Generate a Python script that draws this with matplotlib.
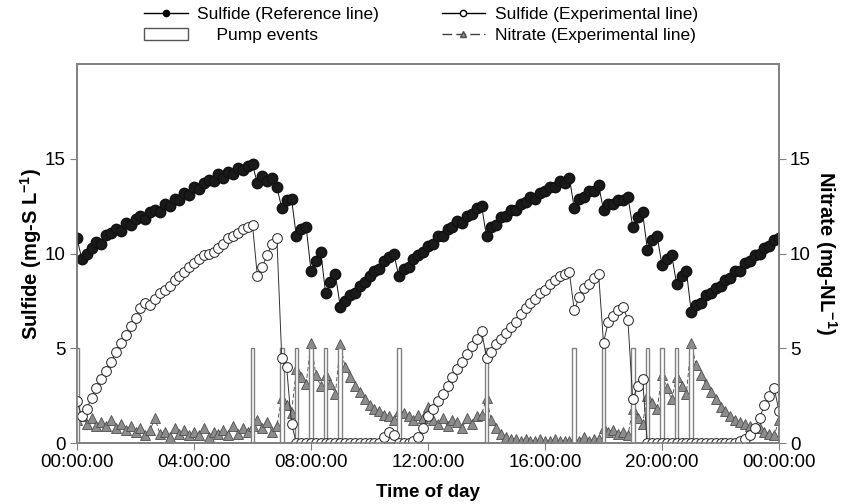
import numpy as np
import matplotlib.pyplot as plt
from matplotlib.lines import Line2D
from matplotlib.patches import Rectangle

plt.rcParams['font.family'] = ['Liberation Sans', 'DejaVu Sans']
plt.rcParams['mathtext.fontset'] = 'custom'
plt.rcParams['mathtext.rm'] = 'Liberation Sans'
plt.rcParams['mathtext.bf'] = 'Liberation Sans:bold'

# samples every 10 min from 00:00 to 24:00, one row per hour
minutes = np.arange(0, 24 * 60 + 1, 10)
hours = minutes / 60.0

sulfide_ref = [
    10.8, 9.7, 10.0, 10.3, 10.6, 10.5,   # 00h
    11.0, 11.1, 11.3, 11.2, 11.6, 11.5,  # 01h
    11.8, 12.0, 11.8, 12.2, 12.3, 12.2,  # 02h
    12.6, 12.5, 12.9, 12.8, 13.2, 13.1,  # 03h
    13.5, 13.4, 13.7, 13.9, 13.8, 14.2,  # 04h
    14.0, 14.3, 14.2, 14.5, 14.4, 14.6,  # 05h
    14.7, 13.7, 14.1, 13.8, 14.0, 13.5,  # 06h
    12.4, 12.8, 12.9, 10.9, 11.3, 11.4,  # 07h
    9.1, 9.6, 10.1, 7.9, 8.5, 8.9,       # 08h
    7.2, 7.5, 7.8, 7.9, 8.3, 8.5,        # 09h
    8.8, 9.1, 9.2, 9.6, 9.8, 10.0,       # 10h
    8.8, 9.2, 9.3, 9.7, 9.9, 10.1,       # 11h
    10.4, 10.5, 10.9, 10.9, 11.3, 11.4,  # 12h
    11.7, 11.6, 12.0, 12.1, 12.4, 12.5,  # 13h
    10.9, 11.4, 11.5, 11.9, 12.0, 12.3,  # 14h
    12.3, 12.6, 12.7, 13.0, 12.9, 13.2,  # 15h
    13.3, 13.5, 13.5, 13.8, 13.7, 14.0,  # 16h
    12.4, 12.9, 13.0, 13.3, 13.3, 13.6,  # 17h
    12.3, 12.6, 12.6, 12.8, 12.8, 13.0,  # 18h
    11.4, 11.9, 12.2, 10.2, 10.7, 10.9,  # 19h
    9.4, 9.7, 9.9, 8.4, 8.8, 9.1,        # 20h
    6.9, 7.3, 7.4, 7.8, 7.9, 8.2,        # 21h
    8.3, 8.6, 8.7, 9.1, 9.1, 9.5,        # 22h
    9.6, 9.9, 10.0, 10.3, 10.4, 10.7,    # 23h
    10.8]

sulfide_exp = [
    2.2, 1.4, 1.8, 2.4, 2.9, 3.4,
    3.8, 4.3, 4.8, 5.3, 5.7, 6.2,
    6.6, 7.1, 7.4, 7.3, 7.6, 7.9,
    8.1, 8.3, 8.6, 8.8, 9.0, 9.3,
    9.5, 9.7, 9.9, 10.0, 10.1, 10.3,
    10.5, 10.8, 10.9, 11.1, 11.3, 11.4,
    11.5, 8.8, 9.3, 9.9, 10.5, 10.8,
    4.5, 4.0, 1.0, 0.0, 0.0, 0.0,
    0.0, 0.0, 0.0, 0.0, 0.0, 0.0,
    0.0, 0.0, 0.0, 0.0, 0.0, 0.0,
    0.0, 0.0, 0.0, 0.3, 0.6, 0.4,
    0.0, 0.0, 0.0, 0.1, 0.3, 0.8,
    1.4, 1.8, 2.2, 2.6, 3.0, 3.5,
    3.9, 4.3, 4.7, 5.1, 5.5, 5.9,
    4.5, 4.8, 5.2, 5.5, 5.8, 6.1,
    6.4, 6.8, 7.1, 7.4, 7.6, 7.9,
    8.1, 8.4, 8.6, 8.8, 8.9, 9.0,
    7.0, 7.7, 8.2, 8.4, 8.7, 8.9,
    5.3, 6.4, 6.7, 7.0, 7.2, 6.5,
    2.3, 3.0, 3.4, 0.0, 0.0, 0.0,
    0.0, 0.0, 0.0, 0.0, 0.0, 0.0,
    0.0, 0.0, 0.0, 0.0, 0.0, 0.0,
    0.0, 0.0, 0.0, 0.0, 0.1, 0.2,
    0.4, 0.8, 1.3, 2.0, 2.5, 2.9,
    1.7]

nitrate_exp = [
    1.2, 1.4, 1.0, 1.3, 0.9, 1.1,
    0.9, 1.2, 0.8, 1.0, 0.7, 0.9,
    0.6, 0.8, 0.4, 0.7, 1.3, 0.5,
    0.6, 0.3, 0.8, 0.5, 0.7, 0.4,
    0.6, 0.4, 0.8, 0.3, 0.6, 0.5,
    0.7, 0.4, 0.9, 0.5, 0.8, 0.6,
    0.9, 1.2, 0.8, 1.1, 0.6, 0.9,
    2.4, 2.0, 1.6, 3.9, 3.5, 3.1,
    5.3, 3.6, 3.0, 3.6, 3.1, 2.6,
    5.2, 4.0, 3.5, 3.0, 2.7, 2.3,
    2.0, 1.8, 1.7, 1.5, 1.4, 1.2,
    1.7, 1.6, 1.4, 1.2, 1.5, 1.3,
    1.9, 1.2, 1.0, 1.3, 0.9, 1.2,
    1.1, 0.8, 1.3, 1.0, 1.4, 1.5,
    2.4, 1.2, 0.8, 0.5, 0.3, 0.2,
    0.2, 0.1, 0.2, 0.1, 0.1, 0.2,
    0.1, 0.1, 0.2, 0.1, 0.1, 0.1,
    0.2, 0.1, 0.3, 0.1, 0.2, 0.2,
    0.8, 0.6, 0.7, 0.5, 0.6, 0.4,
    1.8, 1.3, 1.0, 2.5, 2.1, 1.8,
    3.6, 2.9, 2.3, 3.5, 3.0, 2.6,
    5.3, 4.1, 3.6, 3.1, 2.7, 2.3,
    1.9, 1.7, 1.4, 1.2, 1.1, 1.0,
    0.9, 0.8, 0.8, 0.6, 0.5, 0.4,
    1.2]

pump_hours = [0, 6, 7, 7.5, 8, 8.5, 9, 11, 14, 17, 18, 19, 19.5, 20, 20.5, 21]
pump_level = [5] * len(pump_hours)

xtick_hours = [0, 4, 8, 12, 16, 20, 24]
xtick_labels = ['00:00:00', '04:00:00', '08:00:00', '12:00:00',
                '16:00:00', '20:00:00', '00:00:00']

spine_col = '#808080'

fig = plt.figure(figsize=(8.45, 5.04), dpi=100)
ax = fig.add_axes([77/845, 1-443/504, 702/845, 379/504])

# PLOTTING THE SERIES
ax.plot(hours, nitrate_exp, color='#404040', lw=0.6, ls=(0, (5, 3)),
        marker='^', ms=7, mfc='#8c8c8c', mec='#4d4d4d', mew=0.6, zorder=2)
ax.bar(pump_hours, pump_level, width=0.12, color='white',
       edgecolor=spine_col, linewidth=1, zorder=3)
ax.plot(hours, sulfide_exp, color='#333333', lw=0.7, marker='o', ms=7,
        mfc='white', mec='#222222', mew=0.7, zorder=4)
ax.plot(hours, sulfide_ref, color='#111111', lw=0.7, marker='o', ms=7.5,
        mfc='#1a1a1a', mec='#111111', zorder=5)

ax.set_xlim(0, 24)
ax.set_ylim(0, 20)
ax.set_xticks(xtick_hours)
ax.set_xticklabels(xtick_labels)
ax.set_yticks([0, 5, 10, 15])
ax.tick_params(direction='out', length=5, color=spine_col, labelsize=13.5, pad=3)
for s in ax.spines.values():
    s.set_color(spine_col)
    s.set_linewidth(1.2)

ax2 = ax.twinx()
ax2.set_ylim(0, 20)
ax2.set_yticks([0, 5, 10, 15])
ax2.tick_params(direction='out', length=5, color=spine_col, labelsize=13.5, pad=3)
for s in ax2.spines.values():
    s.set_color(spine_col)
    s.set_linewidth(1.2)

ax.set_xlabel('Time of day', fontweight='bold', fontsize=13.5, labelpad=9)
ax.set_ylabel(r'Sulfide (mg-S L$^{\mathbf{-1}}$)', fontweight='bold', fontsize=14.5, labelpad=1)
ax2.set_ylabel(r'Nitrate (mg-NL$^{\mathbf{-1}}$)', fontweight='bold', fontsize=14.5,
               rotation=270, labelpad=20)

# LEGEND
h_ref = Line2D([], [], color='black', lw=1, marker='o', ms=4.5, mfc='black', mec='black')
h_pump = Rectangle((0, 0), 1, 1, facecolor='white', edgecolor='#555555', lw=1)
h_exp = Line2D([], [], color='black', lw=1, marker='o', ms=4.5, mfc='white', mec='black')
h_nit = Line2D([], [], color='#404040', lw=1, ls=(0, (7, 3)), marker='^', ms=4.5,
               mfc='#8c8c8c', mec='#4d4d4d')
fig.legend(handles=[h_ref, h_pump, h_exp, h_nit],
           labels=['Sulfide (Reference line)', '    Pump events',
                   'Sulfide (Experimental line)', 'Nitrate (Experimental line)'],
           ncol=2, loc='center', bbox_to_anchor=(421/845, 1-25/504), frameon=False,
           fontsize=12.5, handlelength=2.5, handletextpad=0.55,
           columnspacing=3.6, labelspacing=0.3)

fig.savefig('out.png', dpi=100)
